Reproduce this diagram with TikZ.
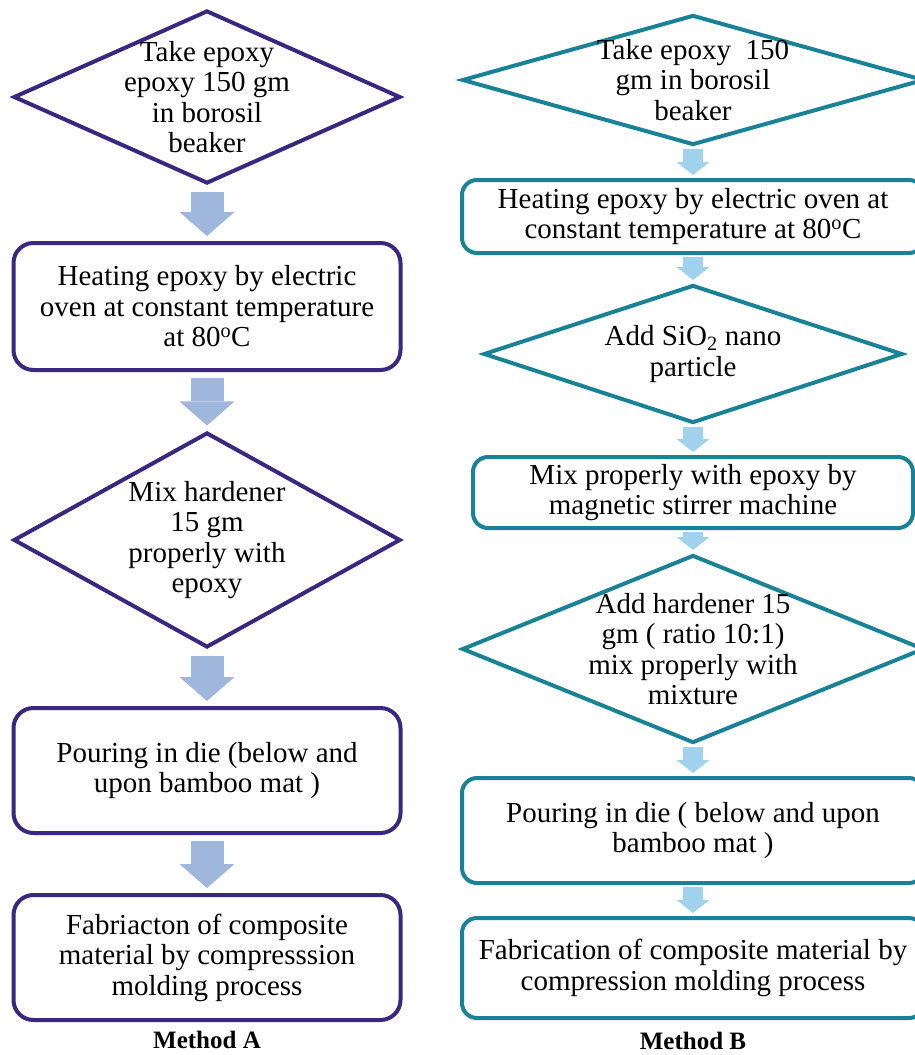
\documentclass[tikz,border=0pt]{standalone}
\usepackage{fontspec}
\setmainfont{Liberation Serif}
\usetikzlibrary{arrows.meta,positioning,shapes.geometric}
\definecolor{Indigo}{HTML}{3A2880}
\definecolor{Teal}{HTML}{1A8296}
\definecolor{SteelSoft}{HTML}{9FB6DD}
\definecolor{SkySoft}{HTML}{A0D2EE}
\tikzset{
  body/.style={font=\fontsize{29}{30.5}\selectfont,align=center,text=black},
  boxA/.style={body,draw=Indigo,line width=4pt,rounded corners=20pt,minimum width=387pt,inner sep=0pt},
  boxB/.style={body,draw=Teal,line width=4pt,rounded corners=15pt,minimum width=462pt,inner sep=0pt},
  diaA/.style={shape=diamond,draw=Indigo,line width=4pt,inner sep=0pt,minimum width=387pt},
  diaB/.style={shape=diamond,draw=Teal,line width=4pt,inner sep=0pt},
  fatA/.style={draw=SteelSoft,line width=33pt,-{Triangle[width=55pt,length=24pt,line width=0pt]},shorten <=6pt,shorten >=5pt},
  fatB/.style={draw=SkySoft,line width=20pt,-{Triangle[width=33pt,length=13pt,line width=0pt]},shorten <=2pt,shorten >=3pt},
  method/.style={font=\bfseries\fontsize{25}{25}\selectfont}
}
\begin{document}
\begin{tikzpicture}[x=1pt,y=-1pt]
\useasboundingbox (0,0) rectangle (915,1055);
% Method A
\node[diaA,minimum height=173pt,label={[body]center:{Take epoxy\\epoxy 150 gm\\in borosil\\beaker}}] (a1) at (207,97) {};
\node[boxA,minimum height=127pt] (a2) at (207,306.5) {Heating epoxy by electric\\oven at constant temperature\\at 80\textsuperscript{o}C};
\node[diaA,minimum height=215pt,label={[body]center:{Mix hardener\\15 gm\\properly with\\epoxy}}] (a3) at (207,540) {};
\node[boxA,minimum height=125pt] (a4) at (207,770.5) {Pouring in die (below and\\upon bamboo mat )};
\node[boxA,minimum height=125pt] (a5) at (207,957.5) {Fabriacton of composite\\material by compresssion\\molding process};
\node[method] (ma) at (207,1040) {Method A};
\draw[fatA] (a1) -- (a2);
\draw[fatA] (a2) -- (a3);
\draw[fatA] (a3) -- (a4);
\draw[fatA] (a4) -- (a5);
% Method B
\node[diaB,minimum width=462pt,minimum height=130pt,label={[body]center:{Take epoxy~~150\\gm in borosil\\beaker}}] (b1) at (693,80) {};
\node[boxB,minimum height=73pt] (b2) at (693,216.5) {Heating epoxy by electric oven at\\constant temperature at 80\textsuperscript{o}C};
\node[diaB,minimum width=419pt,minimum height=138pt,label={[body]center:{Add SiO\textsubscript{2} nano\\particle}}] (b3) at (693,354) {};
\node[boxB,minimum width=440pt,minimum height=71pt] (b4) at (693,492.5) {Mix properly with epoxy by\\magnetic stirrer machine};
\node[diaB,minimum width=462pt,minimum height=188pt,label={[body]center:{Add hardener 15\\gm ( ratio 10:1)\\mix properly with\\mixture}}] (b5) at (693,649) {};
\node[boxB,minimum height=105pt] (b6) at (693,830.5) {Pouring in die ( below and upon\\bamboo mat )};
\node[boxB,minimum height=100pt] (b7) at (693,968) {Fabrication of composite material by\\compression molding process};
\node[method] (mb) at (693,1041) {Method B};
\draw[fatB] (b1) -- (b2);
\draw[fatB] (b2) -- (b3);
\draw[fatB] (b3) -- (b4);
\draw[fatB] (b4) -- (b5);
\draw[fatB] (b5) -- (b6);
\draw[fatB] (b6) -- (b7);
\end{tikzpicture}
\end{document}
